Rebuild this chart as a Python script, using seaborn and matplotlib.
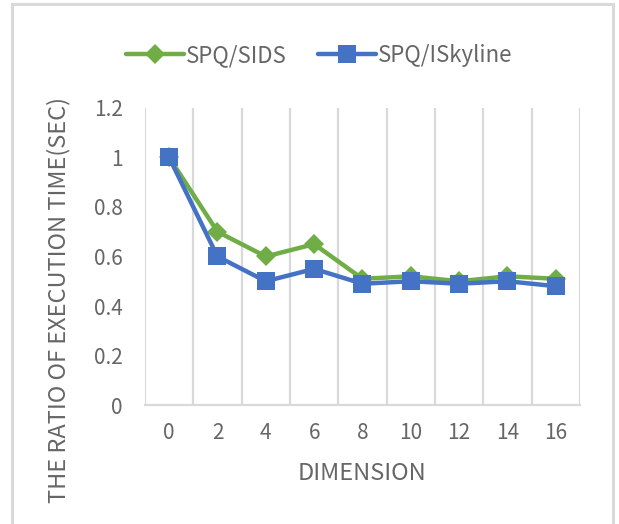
import matplotlib
matplotlib.use("Agg")
import matplotlib.pyplot as plt
from matplotlib.patches import Rectangle
import seaborn as sns
import pandas as pd

dimensions = ["0", "2", "4", "6", "8", "10", "12", "14", "16"]
sids_ratio = [1.0, 0.70, 0.60, 0.65, 0.51, 0.52, 0.50, 0.52, 0.51]
iskyline_ratio = [1.0, 0.60, 0.50, 0.55, 0.49, 0.50, 0.49, 0.50, 0.48]
series_names = ["SPQ/SIDS", "SPQ/ISkyline"]
y_ticks = [0, 0.2, 0.4, 0.6, 0.8, 1, 1.2]
y_tick_labels = ["0", "0.2", "0.4", "0.6", "0.8", "1", "1.2"]

sns.set_style("white")
plt.rcParams["font.family"] = ["Noto Sans CJK SC", "DejaVu Sans"]

text_color = "#666666"
grid_color = "#D9D9D9"
green = "#70AD47"
blue = "#4472C4"

df = pd.DataFrame({
    "dimension": dimensions * 2,
    "ratio": sids_ratio + iskyline_ratio,
    "series": [series_names[0]] * len(dimensions) + [series_names[1]] * len(dimensions),
})

fig = plt.figure(figsize=(6.19, 5.24), dpi=100)
ax = fig.add_axes([0.2342, 0.227, 0.7028, 0.567])

# outer chart frame
fig.patches.append(Rectangle((0.019, -0.05), 0.972, 1.042, transform=fig.transFigure,
                             fill=False, edgecolor=grid_color, linewidth=2.2))

sns.lineplot(data=df, x="dimension", y="ratio", hue="series", style="series",
             markers={series_names[0]: "D", series_names[1]: "s"}, dashes=False,
             palette={series_names[0]: green, series_names[1]: blue},
             linewidth=3.2, ax=ax, sort=False)
for line, ms in zip(ax.lines, [10, 13]):
    line.set_markersize(ms)
    line.set_markeredgewidth(0)

ax.set_xlim(-0.5, len(dimensions) - 0.5)
ax.set_ylim(0, 1.2)
ax.set_yticks(y_ticks)
ax.set_yticklabels(y_tick_labels)

# vertical grid lines between categories
for b in range(len(dimensions) + 1):
    ax.axvline(b - 0.5, color=grid_color, linewidth=1.6, zorder=0)

for s in ["top", "right", "left"]:
    ax.spines[s].set_visible(False)
ax.spines["bottom"].set_color(grid_color)
ax.spines["bottom"].set_linewidth(1.6)

ax.tick_params(axis="both", length=0, colors=text_color, labelsize=15)
ax.tick_params(axis="y", pad=16)
ax.tick_params(axis="x", pad=12)

ax.set_xlabel("DIMENSION", color=text_color, fontsize=17, labelpad=13)
ax.set_ylabel("THE RATIO OF EXECUTION TIME(SEC)", color=text_color, fontsize=17)
ax.yaxis.set_label_coords(-0.172, 0.354)

leg = ax.legend(loc="center", bbox_to_anchor=(0.40, 1.177), ncol=2, frameon=False,
                fontsize=16, handlelength=2.6, columnspacing=1.4, handletextpad=0.1)
for t in leg.get_texts():
    t.set_color(text_color)
for h, ms in zip(leg.get_lines(), [10, 13]):
    h.set_markersize(ms)
    h.set_markeredgewidth(0)
    h.set_linewidth(3.2)

fig.savefig("out.png", dpi=100)
